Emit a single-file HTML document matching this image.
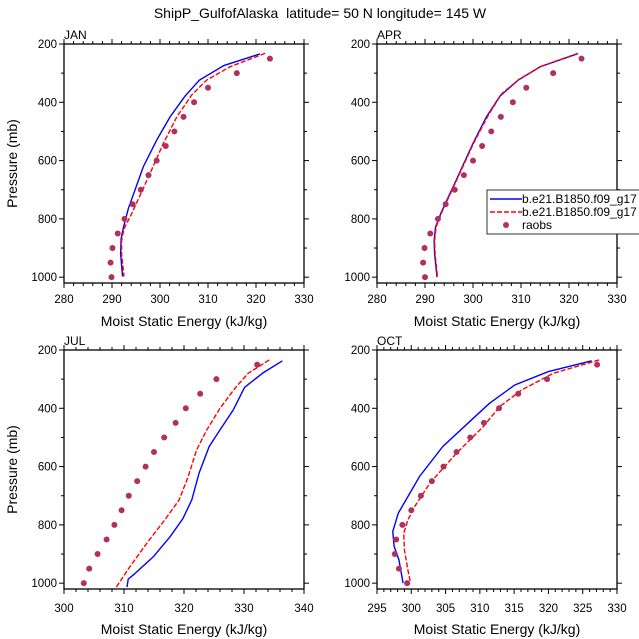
<!DOCTYPE html>
<html><head><meta charset="utf-8">
<style>
html,body{margin:0;padding:0;background:#fff;}
svg{display:block;font-family:"Liberation Sans",sans-serif;}
</style></head>
<body>
<svg id="chart" width="639" height="639" viewBox="0 0 639 639" xmlns="http://www.w3.org/2000/svg">
<text x="320" y="18" text-anchor="middle" font-size="14">ShipP_GulfofAlaska&#160; latitude= 50 N longitude= 145 W</text>
</svg>
<script>
// Observation pressure levels (mb)
const obsP = [250,300,350,400,450,500,550,600,650,700,750,800,850,900,950,1000];
// JAN
const janObs = [322.9,316.0,310.0,307.1,304.9,303.0,301.2,299.3,297.6,296.0,294.3,292.6,291.2,290.1,289.7,289.9];
const janBlueP = [234,274,324,379,450,530,622,765,828,868,920,998];
const janBlueX = [320.8,313.3,308.2,305.2,302.1,299.3,296.5,293.4,292.4,291.9,291.8,292.2];
const janRedP = [232,278,324,375,450,541,656,782,834,874,920,998];
const janRedX = [321.9,314.6,309.7,306.6,303.5,300.7,297.6,294.1,292.5,292.0,292.0,292.5];
// APR
const aprObs = [322.6,316.7,311.1,308.3,305.8,303.8,301.9,300.0,298.1,296.2,294.3,292.7,291.1,289.9,289.6,290.0];
const aprBlueP = [234,278,324,379,450,541,667,777,828,874,920,1000];
const aprBlueX = [321.7,314.0,309.4,305.6,302.8,300.0,296.5,293.4,292.2,291.9,292.0,292.5];
const aprRedP = [232,276,321,372,444,541,667,777,828,874,920,1000];
const aprRedX = [321.9,314.3,309.6,305.9,303.2,300.1,296.6,293.5,292.3,292.0,292.1,292.6];
// JUL
const julObs = [332.2,325.4,322.7,320.3,318.6,316.7,315.0,313.6,312.2,310.8,309.6,308.4,307.1,305.6,304.2,303.3];
const julBlueP = [237,278,328,406,474,531,623,714,779,840,909,971,986,1013];
const julBlueX = [336.4,333.2,330.1,328.2,326.0,324.2,322.5,321.3,319.8,317.7,314.9,311.6,310.7,310.5];
const julRedP = [234,280,331,400,474,543,634,714,783,863,943,1014];
const julRedX = [334.2,330.7,328.5,326.0,323.8,322.1,320.7,319.2,316.8,313.8,311.0,308.7];
// OCT
const octObs = [327.1,319.8,315.6,312.8,310.6,308.6,306.6,304.7,303.0,301.4,300.0,298.7,297.8,297.6,298.2,299.4];
const octBlueP = [237,274,320,383,446,531,634,760,823,874,920,1000];
const octBlueX = [326.3,320.0,315.1,311.4,308.5,304.6,301.2,298.1,297.3,297.5,298.2,298.8];
const octRedP = [234,280,337,394,463,554,657,737,783,829,886,954,1000];
const octRedX = [327.4,320.7,316.1,312.9,310.5,306.6,302.7,300.5,299.5,298.9,299.0,299.5,299.9];
const yTicks = [200,400,600,800,1000];

const NS = "http://www.w3.org/2000/svg";
const svg = document.getElementById('chart');
function mk(tag, attrs, parent){
  const e = document.createElementNS(NS, tag);
  for (const k in attrs) e.setAttribute(k, attrs[k]);
  (parent||svg).appendChild(e);
  return e;
}
function panel(cfg){
  const {name,L,R,T,B,xmin,xmax,xmaj,xmin2,obs,bP,bX,rP,rX,ytitle,xLabY,xTitleY} = cfg;
  const g = mk('g',{});
  
  
  const sx = v => L + (v-xmin)/(xmax-xmin)*(R-L);
  const pBot = 1020;
  const sy = p => T + (p-200)/(pBot-200)*(B-T);
  for (let v=xmin; v<=xmax+1e-6; v+=xmin2){
    const major = Math.abs(((v-xmin)/xmaj) - Math.round((v-xmin)/xmaj))<1e-6;
    const len = major?5:3;
    mk('line',{x1:sx(v),x2:sx(v),y1:B,y2:B+len,stroke:'#000','stroke-width':1},g);
    mk('line',{x1:sx(v),x2:sx(v),y1:T,y2:T-len,stroke:'#000','stroke-width':1},g);
    if (major){
      const t = mk('text',{x:sx(v),y:xLabY,'text-anchor':'middle','font-size':11.5},g);
      t.textContent = Math.round(v);
      
      
    }
  }
  for (let p=200; p<=1000; p+=100){
    const major = p%200===0;
    const len = major?5:3;
    mk('line',{x1:L,x2:L-len,y1:sy(p),y2:sy(p),stroke:'#000','stroke-width':1},g);
    mk('line',{x1:R,x2:R+len,y1:sy(p),y2:sy(p),stroke:'#000','stroke-width':1},g);
  }
  for (const p of yTicks){
    const t = mk('text',{x:L-7,y:sy(p)+4,'text-anchor':'end','font-size':11.5},g);
    t.textContent = p;
    
    
  }
  mk('rect',{x:L,y:T,width:R-L,height:B-T,fill:'none',stroke:'#000','stroke-width':1.3},g);
  const ttl = mk('text',{x:L,y:T-5,'font-size':12},g);
  ttl.textContent = name.toUpperCase();
  
  
  const xt = mk('text',{x:(L+R)/2,y:xTitleY,'text-anchor':'middle','font-size':14},g);
  xt.textContent = 'Moist Static Energy (kJ/kg)';
  
  
  if (ytitle){
    const yt = mk('text',{x:0,y:0,'text-anchor':'middle','font-size':14,transform:`translate(17,${(T+B)/2}) rotate(-90)`},g);
    yt.textContent = 'Pressure (mb)';
    
    
  }
  const blue = mk('polyline',{points:bP.map((p,i)=>sx(bX[i])+','+sy(p)).join(' '),fill:'none',stroke:'#0000ff','stroke-width':1.4},g);
  
  
  const red = mk('polyline',{points:rP.map((p,i)=>sx(rX[i])+','+sy(p)).join(' '),fill:'none',stroke:'#ff0000','stroke-width':1.4,'stroke-dasharray':'5,2'},g);
  
  
  obsP.forEach((p,i)=>{
    const c = mk('circle',{cx:sx(obs[i]),cy:sy(p),r:3,fill:'#b03060'},g);
    
    
  });
}
panel({name:'jan',L:64,R:304,T:44,B:283,xmin:280,xmax:330,xmaj:10,xmin2:2,obs:janObs,bP:janBlueP,bX:janBlueX,rP:janRedP,rX:janRedX,ytitle:true,xLabY:303,xTitleY:326});
panel({name:'apr',L:377,R:617,T:44,B:283,xmin:280,xmax:330,xmaj:10,xmin2:2,obs:aprObs,bP:aprBlueP,bX:aprBlueX,rP:aprRedP,rX:aprRedX,ytitle:false,xLabY:303,xTitleY:326});
panel({name:'jul',L:64,R:304,T:350,B:589,xmin:300,xmax:340,xmaj:10,xmin2:2,obs:julObs,bP:julBlueP,bX:julBlueX,rP:julRedP,rX:julRedX,ytitle:true,xLabY:612,xTitleY:634});
panel({name:'oct',L:377,R:617,T:350,B:589,xmin:295,xmax:330,xmaj:5,xmin2:1,obs:octObs,bP:octBlueP,bX:octBlueX,rP:octRedP,rX:octRedX,ytitle:false,xLabY:612,xTitleY:634});

const lg = mk('g',{});


mk('rect',{x:487,y:190,width:160,height:44,fill:'#fff',stroke:'#000','stroke-width':0.8},lg);
mk('line',{x1:490,x2:522,y1:199,y2:199,stroke:'#0000ff','stroke-width':1.4},lg);
mk('line',{x1:490,x2:522,y1:212,y2:212,stroke:'#ff0000','stroke-width':1.4,'stroke-dasharray':'5,2'},lg);
mk('circle',{cx:506,cy:225,r:3,fill:'#b03060'},lg);
[['b.e21.B1850.f09_g17',203],['b.e21.B1850.f09_g17',216],['raobs',229]].forEach(([s,y])=>{
  const t = mk('text',{x:522,y:y,'font-size':12},lg);
  t.textContent = s;
  
  
});
</script>
</body></html>
